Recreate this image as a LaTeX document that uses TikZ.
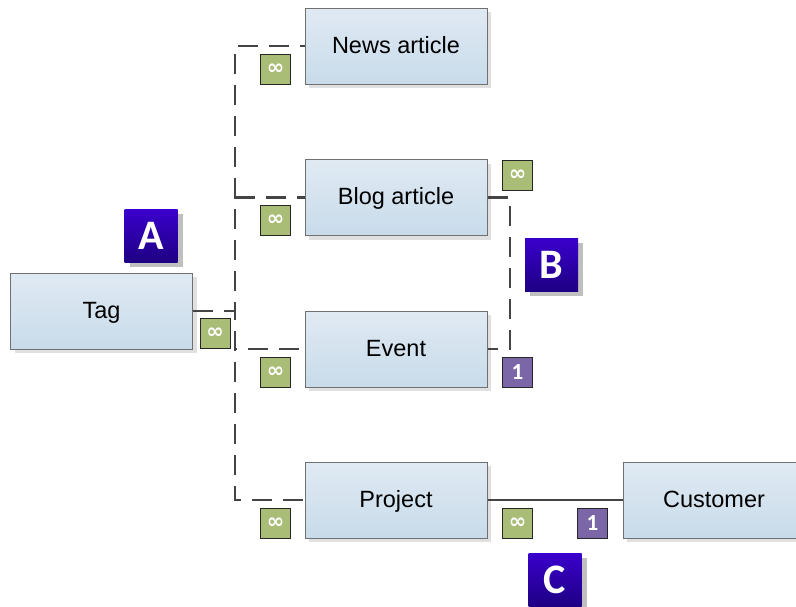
\documentclass[tikz,border=0pt]{standalone}
\usepackage{fontspec}
\setmainfont{Liberation Sans}
\newfontfamily\badgefont{Carlito}
\newfontfamily\symfont{DejaVu Sans}[BoldFont={DejaVu Sans Bold}]
\usetikzlibrary{shadows}
\definecolor{boxtop}{HTML}{E0EAF3}
\definecolor{boxbot}{HTML}{C8DBEA}
\definecolor{boxline}{HTML}{707070}
\definecolor{greenbadge}{HTML}{A9BD77}
\definecolor{purplebadge}{HTML}{7B66A8}
\definecolor{lettertop}{HTML}{3A00CC}
\definecolor{letterbot}{HTML}{1E0082}
\definecolor{linegray}{HTML}{444444}
\tikzset{
  entity/.style={draw=boxline, line width=1pt, top color=boxtop, bottom color=boxbot,
    minimum width=182pt, minimum height=76pt, inner sep=0pt, text height=18pt, text depth=4pt,
    font=\fontsize{23.5}{27}\selectfont,
    drop shadow={shadow xshift=4pt, shadow yshift=-4pt, fill=black!12, opacity=1}},
  many/.style={draw=black!85, line width=1pt, fill=greenbadge, minimum width=30pt, minimum height=30pt,
    inner sep=0pt, text=white, font=\symfont\bfseries\fontsize{21}{21}\selectfont},
  one/.style={draw=black!85, line width=1pt, fill=purplebadge, minimum width=30pt, minimum height=30pt,
    inner sep=0pt, text=white, font=\badgefont\bfseries\fontsize{23}{23}\selectfont},
  letter/.style={top color=lettertop, bottom color=letterbot, minimum width=53pt, minimum height=53pt,
    inner sep=0pt, text=white, font=\badgefont\bfseries\fontsize{42}{42}\selectfont,
    drop shadow={shadow xshift=5pt, shadow yshift=-4pt, fill=black!25, opacity=1}},
  rel/.style={draw=linegray, line width=2.8pt, dash pattern=on 20pt off 11pt},
  solidrel/.style={draw=linegray, line width=2.8pt}
}
\begin{document}
\begin{tikzpicture}[x=1pt,y=-1pt]
\useasboundingbox (0,0) rectangle (796,606);
\begin{scope}
\clip (0,0) rectangle (796,606);
% entities
\node[entity] (tag) at (101.5,311) {Tag};
\node[entity] (news) at (396,46) {News article};
\node[entity] (blog) at (396,197.5) {Blog article};
\node[entity] (event) at (396,349) {Event};
\node[entity] (project) at (396,500) {Project};
\node[entity] (customer) at (714,500) {Customer};
% coordinates
\coordinate (tagj) at (235,311);
\coordinate (be) at (510,197.5);
% connectors
\draw[rel] (tag.east) -- (tagj) |- (news.west);
\draw[rel] (tag.east) -- (tagj) |- (blog.west);
\draw[rel] (tag.east) -- (tagj) |- (event.west);
\draw[rel] (tag.east) -- (tagj) |- (project.west);
\draw[rel] (blog.east) -- (be) |- (event.east);
\draw[solidrel] (project.east) -- (customer.west);
% cardinality badges
\node[many] (m1) at (275.5,69) {∞};
\node[many] (m2) at (275.5,220.5) {∞};
\node[many] (m3) at (517.5,175) {∞};
\node[many] (m4) at (215,333.5) {∞};
\node[many] (m5) at (275.5,372) {∞};
\node[one] (o1) at (517.5,372) {1};
\node[many] (m6) at (275.5,523) {∞};
\node[many] (m7) at (517.5,523) {∞};
\node[one] (o2) at (592.5,523) {1};
% letter badges
\node[letter] (la) at (151,236) {A};
\node[letter] (lb) at (551.5,265) {B};
\node[letter] (lc) at (555,580) {C};
\end{scope}
\end{tikzpicture}
\end{document}
